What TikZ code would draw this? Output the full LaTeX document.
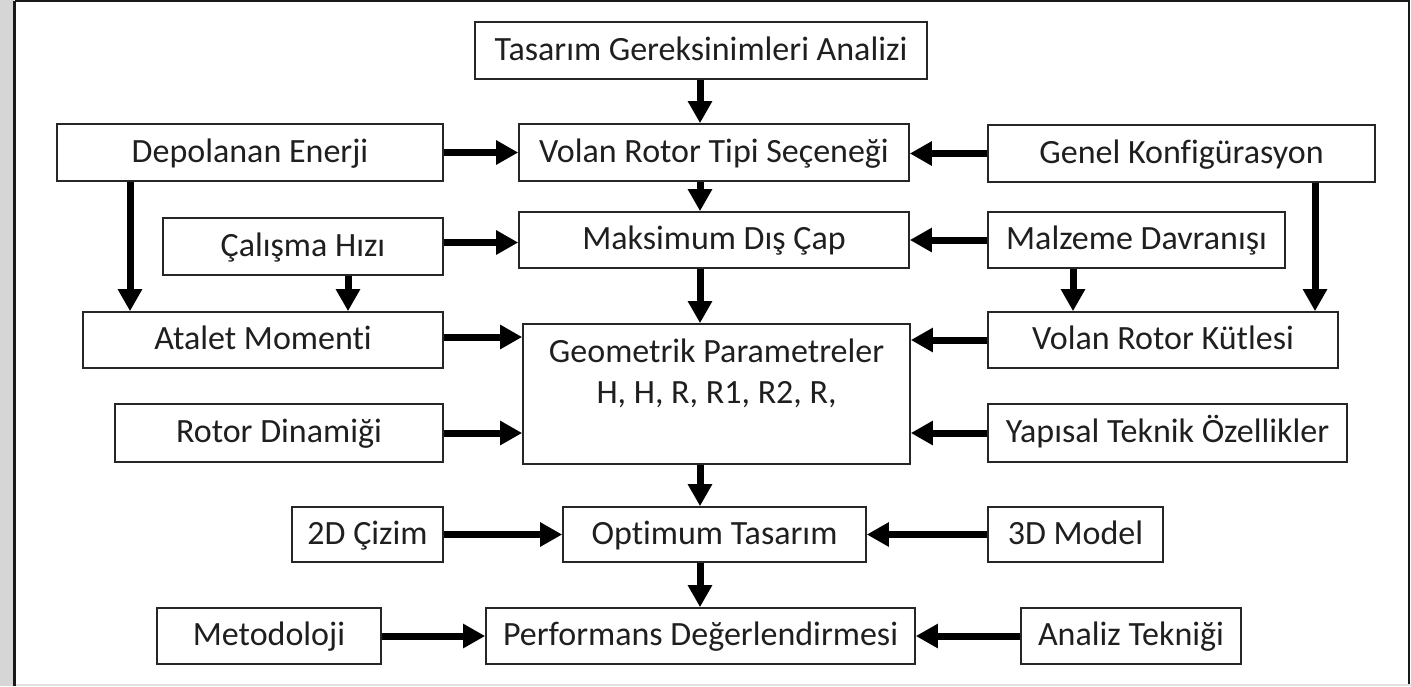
\documentclass[tikz,border=0pt]{standalone}
\usepackage{fontspec}
\setmainfont[Ligatures=NoCommon]{Carlito}
\usetikzlibrary{arrows.meta,calc}
\tikzset{
  box/.style={draw=black!85, line width=1.6pt, fill=white, inner sep=0pt, align=center,
    font=\fontsize{34}{41}\selectfont, text=black!88},
  onel/.style={text height=24pt, text depth=5pt},
  arr/.style={line width=7pt, -{Triangle[length=22pt,width=23pt]}},
}
\newcommand{\bx}[6]{\node[box, onel, minimum width={(#4-#2)*1pt}, minimum height={(#5-#3)*1pt}] (#1) at ({(#2+#4)/2},{-(#3+#5)/2}) {#6};}
\begin{document}
\begin{tikzpicture}[x=1pt,y=1pt]
\useasboundingbox (0,0) rectangle (1411,-686);
\fill[white] (0,0) rectangle (1411,-686);
\fill[black!16] (0,0) rectangle (14,-686);
\fill[black!12] (14,-684) rectangle (1411,-686);
\draw[black!90, line width=3pt] (14.5,-686) -- (14.5,-1);
\draw[black!90, line width=1.6pt] (14.5,-1) -- (1409,-1) -- (1409,-684);

\coordinate (col) at (700,0);

\bx{T}{475}{22}{927}{79}{Tasarım Gereksinimleri Analizi}
\bx{DE}{57}{124}{443}{181}{Depolanan Enerji}
\bx{V}{519}{124}{909}{181}{Volan Rotor Tipi Seçeneği}
\bx{GK}{988}{125}{1375}{182}{Genel Konfigürasyon}
\bx{CH}{163}{218}{443}{275}{Çalışma Hızı}
\bx{MD}{519}{212}{909}{268}{Maksimum Dış Çap}
\bx{MZ}{988}{212}{1285}{268}{Malzeme Davranışı}
\bx{AM}{83}{312}{443}{368}{Atalet Momenti}
\bx{VK}{988}{312}{1338}{368}{Volan Rotor Kütlesi}
\bx{GP}{523}{324}{910}{464}{}
\node[box, draw=none, fill=none, anchor=base] (GPt) at ($(GP.north)+(0,-80)$) {Geometrik Parametreler\\H, H, R, R1, R2, R,};
\bx{RD}{115}{404}{443}{462}{Rotor Dinamiği}
\bx{YT}{988}{404}{1347}{462}{Yapısal Teknik Özellikler}
\bx{TWO}{292}{507}{443}{562}{2D Çizim}
\bx{OT}{563}{507}{866}{562}{Optimum Tasarım}
\bx{THREE}{988}{507}{1163}{562}{3D Model}
\bx{ME}{157}{608}{381}{664}{Metodoloji}
\bx{PD}{486}{608}{915}{664}{Performans Değerlendirmesi}
\bx{AT}{1021}{608}{1241}{664}{Analiz Tekniği}

% central column
\draw[arr] (T.south -| col) -- (V.north -| col);
\draw[arr] (V.south -| col) -- (MD.north -| col);
\draw[arr] (MD.south -| col) -- (GP.north -| col);
\draw[arr] (GP.south -| col) -- (OT.north -| col);
\draw[arr] (OT.south -| col) -- (PD.north -| col);

% horizontal inputs
\draw[arr] (DE.east) -- (DE.east -| V.west);
\draw[arr] (GK.west) -- (GK.west -| V.east);
\draw[arr] ($(CH.east)+(0,4)$) -- ($(CH.east -| MD.west)+(0,4)$);
\draw[arr] (MZ.west) -- (MZ.west -| MD.east);
\draw[arr] ($(AM.east)+(0,3)$) -- ($(AM.east -| GP.west)+(0,3)$);
\draw[arr] (VK.west) -- (VK.west -| GP.east);
\draw[arr] (RD.east) -- (RD.east -| GP.west);
\draw[arr] (YT.west) -- (YT.west -| GP.east);
\draw[arr] (TWO.east) -- (TWO.east -| OT.west);
\draw[arr] (THREE.west) -- (THREE.west -| OT.east);
\draw[arr] (ME.east) -- (ME.east -| PD.west);
\draw[arr] (AT.west) -- (AT.west -| PD.east);

% verticals on sides
\coordinate (c1) at (130,0);
\coordinate (c2) at (348,0);
\coordinate (c3) at (1073,0);
\coordinate (c4) at (1315,0);
\draw[arr] (DE.south -| c1) -- (AM.north -| c1);
\draw[arr] (CH.south -| c2) -- (AM.north -| c2);
\draw[arr] (MZ.south -| c3) -- (VK.north -| c3);
\draw[arr] (GK.south -| c4) -- (VK.north -| c4);
\end{tikzpicture}
\end{document}
